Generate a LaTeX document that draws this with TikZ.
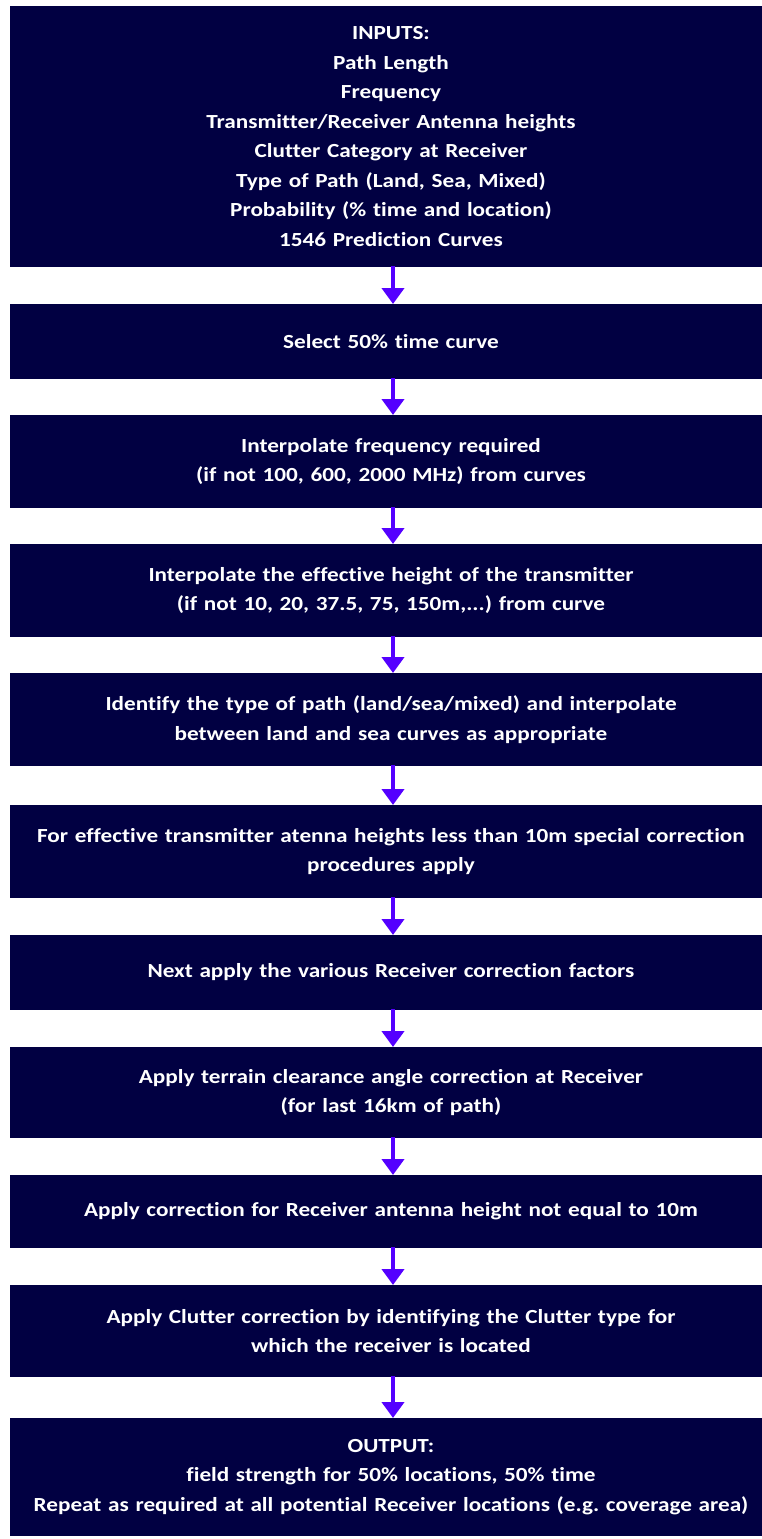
\documentclass[tikz,border=0pt]{standalone}
\usepackage{fontspec}
\setmainfont{Carlito}[Ligatures=NoCommon, FakeStretch=1.16]
\usetikzlibrary{arrows.meta}
\definecolor{boxnavy}{RGB}{1,0,66}
\definecolor{flowviolet}{RGB}{84,0,255}
\frenchspacing
\tikzset{
  stepbox/.style={fill=boxnavy, text=white, inner sep=0pt, outer sep=0pt,
    minimum width=762pt, text width=750pt, align=center,
    font=\fontsize{20pt}{29.5pt}\selectfont\bfseries\frenchspacing},
  flow/.style={draw=flowviolet, line width=4.5pt,
    -{Triangle[width=22pt,length=16pt]}, shorten <=-1pt}
}
\begin{document}
\begin{tikzpicture}[x=1pt,y=-1pt]
\useasboundingbox (0,0) rectangle (762,1539);
\clip (0,0) rectangle (762,1539);
% process boxes, top to bottom
\node[stepbox, minimum height=261pt] (b1) at (391,136.5)
  {INPUTS:\\Path Length\\Frequency\\Transmitter/Receiver Antenna heights\\Clutter Category at Receiver\\Type of Path (Land, Sea, Mixed)\\Probability (\% time and location)\\1546 Prediction Curves};
\node[stepbox, minimum height=75pt] (b2) at (391,341.5) {Select 50\% time curve};
\node[stepbox, minimum height=93pt] (b3) at (391,461.5)
  {Interpolate frequency required\\(if not 100, 600, 2000 MHz) from curves};
\node[stepbox, minimum height=93pt] (b4) at (391,590.5)
  {Interpolate the effective height of the transmitter\\(if not 10, 20, 37.5, 75, 150m,...) from curve};
\node[stepbox, minimum height=93pt] (b5) at (391,719.5)
  {Identify the type of path (land/sea/mixed) and interpolate\\between land and sea curves as appropriate};
\node[stepbox, minimum height=93pt] (b6) at (391,851.5)
  {For effective transmitter atenna heights less than 10m special correction\\procedures apply};
\node[stepbox, minimum height=75pt] (b7) at (391,972.5) {Next apply the various Receiver correction factors};
\node[stepbox, minimum height=91pt] (b8) at (391,1092.5)
  {Apply terrain clearance angle correction at Receiver\\(for last 16km of path)};
\node[stepbox, minimum height=73pt] (b9) at (391,1211.5) {Apply correction for Receiver antenna height not equal to 10m};
\node[stepbox, minimum height=92pt] (b10) at (391,1331)
  {Apply Clutter correction by identifying the Clutter type for\\which the receiver is located};
\node[stepbox, minimum height=118pt] (b11) at (391,1477)
  {OUTPUT:\\field strength for 50\% locations, 50\% time\\Repeat as required at all potential Receiver locations (e.g. coverage area)};
% connectors
\coordinate (ax) at (393,0);
\foreach \a/\b in {b1/b2,b2/b3,b3/b4,b4/b5,b5/b6,b6/b7,b7/b8,b8/b9,b9/b10,b10/b11}
  \draw[flow] (\a.south -| ax) -- (\b.north -| ax);
\end{tikzpicture}
\end{document}
